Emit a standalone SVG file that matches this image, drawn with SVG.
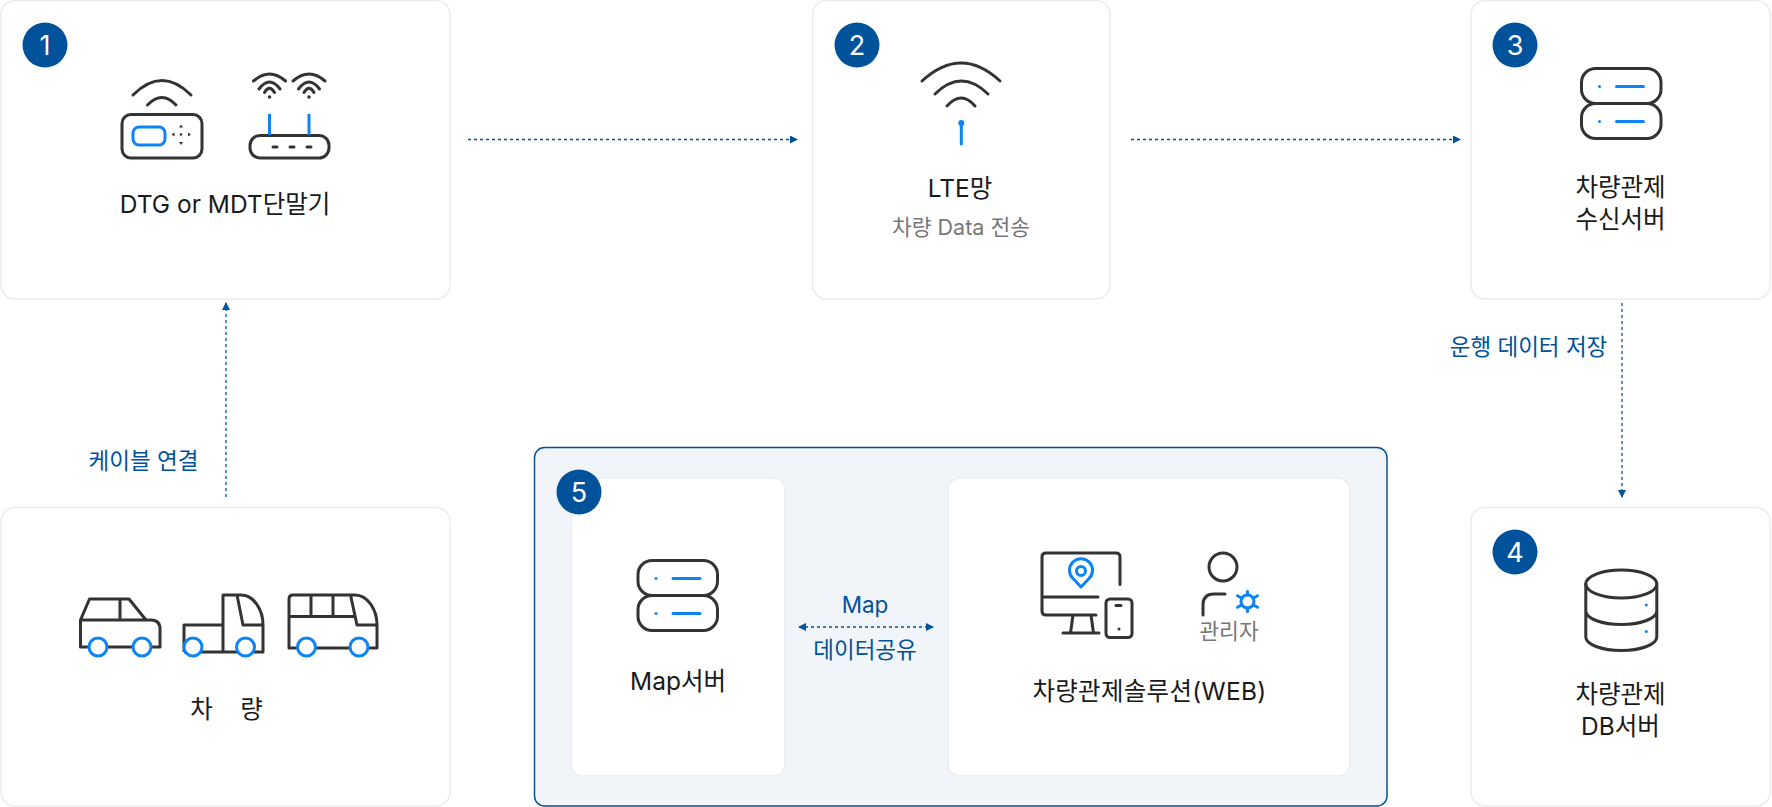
<svg xmlns="http://www.w3.org/2000/svg" width="1772" height="807" viewBox="0 0 1772 807">
<style>
text{font-family:"Inter","Noto Sans CJK KR",sans-serif;text-anchor:middle;fill:#1a1a1a;font-size:24.500px}
.card{fill:#fff;stroke:#ececec;stroke-width:1.500}
.inner{fill:#fff;stroke:#ebedf1;stroke-width:1.500}
.badge{fill:#00529b}
text.num{fill:#fff;font-size:27px}
text.sub{fill:#777;font-size:21.500px}
text.lnk{fill:#00529b;font-size:22.500px}
text.lnk2{fill:#00529b;font-size:22.500px}
.k{fill:none;stroke:#333;stroke-width:3;stroke-linecap:round;stroke-linejoin:round}
.kb{fill:none;stroke:#333;stroke-width:3;stroke-linecap:butt;stroke-linejoin:round}
.b{fill:none;stroke:#0d84f5;stroke-width:3;stroke-linecap:round;stroke-linejoin:round}
.w{fill:#fff;stroke:#0d84f5;stroke-width:3}
.bf{fill:#0d84f5}
.kf{fill:#333}
.c{fill:none;stroke:#00529b;stroke-width:1.300;stroke-dasharray:3 3}
</style>
<defs>
<marker id="ah" markerWidth="8" markerHeight="8" refX="7" refY="4" orient="auto-start-reverse" markerUnits="userSpaceOnUse"><path d="M0 0L8 4L0 8Z" fill="#00529b"/></marker>
<g id="srv">
<rect class="k" x="0" y="0" width="79.500" height="35" rx="14"/>
<rect class="k" x="0" y="35" width="79.500" height="35" rx="14"/>
<circle class="bf" cx="18" cy="18" r="1.500"/><circle class="bf" cx="18" cy="53" r="1.500"/>
<path class="b" d="M35 18H62M35 53H62"/>
</g>
<g id="wifi">
<path class="k" d="M-16 -9Q0 -23 16 -9M-10.500 -1Q0 -15 10.500 -1M-5 2.500Q0 -6 5 2.500"/>
<circle class="kf" cx="0" cy="7" r="1.800"/>
</g>
</defs>

<g id="node-1">
<rect class="card" x="1" y="0.500" width="449" height="298.500" rx="14"/>
<circle class="badge" cx="45" cy="45" r="22.500"/><text class="num" x="45" y="55">1</text>
<rect class="k" x="122" y="114.500" width="80" height="43.500" rx="9"/>
<rect class="b" x="133" y="127" width="32" height="18" rx="6"/>
<path class="k" d="M133 95Q162 66 191 95M147.500 105Q162 90 176 105"/>
<path class="kf" d="M181 124.500l2 3h-4zM181 145l2 -3h-4zM171.500 134.500l3 -2v4zM191 134.500l-3 -2v4z"/><circle class="kf" cx="181" cy="134.500" r="1.300"/>
<rect class="k" x="250" y="135.500" width="79" height="22.500" rx="10"/>
<path class="b" d="M269.500 114V135M309 114V135" style="stroke-linecap:butt"/>
<path class="k" d="M273 147H277M290 147H294M307 147H311"/>
<use href="#wifi" x="269.500" y="90"/><use href="#wifi" x="309" y="90"/>
<text x="225" y="213">DTG or MDT단말기</text>
</g>

<g id="node-2">
<rect class="card" x="812.500" y="0.500" width="297.500" height="298.500" rx="14"/>
<circle class="badge" cx="857" cy="45" r="22.500"/><text class="num" x="857" y="55">2</text>
<path class="k" d="M922 81Q961.300 45 1000 81M935 94Q961.300 68 988 94M947 106Q961.300 90 975 106"/>
<circle class="bf" cx="961.300" cy="123" r="3"/><path class="b" d="M961.300 123V144"/>
<text x="960" y="197">LTE망</text>
<text class="sub" x="961" y="235">차량 Data 전송</text>
</g>

<g id="node-3">
<rect class="card" x="1471" y="0.500" width="299" height="298.500" rx="14"/>
<circle class="badge" cx="1515" cy="45" r="22.500"/><text class="num" x="1515" y="55">3</text>
<use href="#srv" x="1581.500" y="68.500"/>
<text x="1620.500" y="196">차량관제</text>
<text x="1620.500" y="228">수신서버</text>
</g>

<g id="node-4">
<rect class="card" x="1471" y="507.500" width="299" height="298.500" rx="14"/>
<circle class="badge" cx="1515" cy="552" r="22.500"/><text class="num" x="1515" y="562">4</text>
<ellipse class="k" cx="1621.300" cy="584" rx="35.500" ry="14"/>
<path class="k" d="M1585.800 584V637C1585.800 645 1603 650.500 1621.300 650.500S1656.800 645 1656.800 637V584M1585.800 611C1585.800 619 1603 624.500 1621.300 624.500S1656.800 619 1656.800 611"/>
<circle class="bf" cx="1646.300" cy="605" r="1.500"/><circle class="bf" cx="1646.300" cy="631.500" r="1.500"/>
<text x="1620.500" y="703">차량관제</text>
<text x="1620.500" y="735">DB서버</text>
</g>

<g id="node-vehicle">
<rect class="card" x="1" y="507.500" width="449" height="298.500" rx="14"/>
<path class="kb" d="M80.500 647V620L89.500 599H129L146 620H151Q160 620 160 629V647ZM80.500 620H146M120 599V620"/>
<circle class="w" cx="98" cy="647" r="9"/><circle class="w" cx="142" cy="647" r="9"/>
<path class="kb" d="M184 652V625H223M223 652V595H241C254 595 263 610 263 625V652ZM184 652H263M237 595L243 625H263"/>
<circle class="w" cx="193" cy="647" r="9"/><circle class="w" cx="245.500" cy="647" r="9"/>
<path class="kb" d="M289 648V599Q289 595 293 595H355C368 595 377 610 377 625V648ZM289 616.500H354M311 595V616.500M333 595V616.500M350.500 595L357 625H377"/>
<circle class="w" cx="306.500" cy="647" r="9"/><circle class="w" cx="359" cy="647" r="9"/>
<text x="226.500" y="718">차&#160;&#160;&#160;&#160;량</text>
</g>

<g id="node-5">
<rect x="534.500" y="447.500" width="852.500" height="358.500" rx="10" fill="#f1f4f9" stroke="#00529b" stroke-width="1.500"/>
<g id="node-5-map">
<rect class="inner" x="571" y="478" width="214" height="298" rx="12"/>
<use href="#srv" x="638" y="560.500"/>
<text x="678" y="690">Map서버</text>
</g>
<g id="node-5-web">
<rect class="inner" x="948" y="478" width="402" height="298" rx="12"/>
<path class="k" d="M1120 584.500V557Q1120 553 1116 553H1046Q1042 553 1042 557V611Q1042 615 1046 615H1096M1042 597H1098M1073 615L1070.500 633M1091 615L1093.500 633M1063 633H1099"/>
<rect class="k" x="1106" y="599" width="26" height="38.500" rx="4"/>
<path class="k" d="M1116 605.500H1121"/><circle class="kf" cx="1119" cy="629" r="1.500"/>
<path class="b" d="M1081 587L1073 578.500A11.500 11.500 0 1 1 1089 578.500Z"/>
<circle class="b" cx="1081" cy="571" r="4.500"/>
<circle class="k" cx="1223" cy="567" r="14"/>
<path class="k" d="M1203 615V605Q1203 594 1214 594H1225"/>
<circle class="b" cx="1247.500" cy="601.500" r="6.500"/>
<path class="b" d="M1247.500 595V591.500M1247.500 608V611.500M1241.800 598.200L1237.500 595.800M1253.200 598.200L1257.500 595.800M1241.800 604.800L1237.500 607.200M1253.200 604.800L1257.500 607.200"/>
<text class="sub" x="1229" y="639">관리자</text>
<text x="1149.500" y="700" letter-spacing="0.300">차량관제솔루션(WEB)</text>
</g>
<circle class="badge" cx="579" cy="492" r="22.500"/><text class="num" x="579" y="502">5</text>
</g>

<g id="connectors">
<path class="c" d="M468 139.500H797" marker-end="url(#ah)"/>
<path class="c" d="M1131 139.500H1460" marker-end="url(#ah)"/>
<path class="c" d="M226 497V303" marker-end="url(#ah)"/>
<path class="c" d="M1622 303V497" marker-end="url(#ah)"/>
<path class="c" d="M799 627H933" marker-start="url(#ah)" marker-end="url(#ah)"/>
<text class="lnk" x="143.500" y="469">케이블 연결</text>
<text class="lnk" x="1528.500" y="355">운행 데이터 저장</text>
<text class="lnk2" x="865" y="613">Map</text>
<text class="lnk2" x="865" y="658">데이터공유</text>
</g>
</svg>
